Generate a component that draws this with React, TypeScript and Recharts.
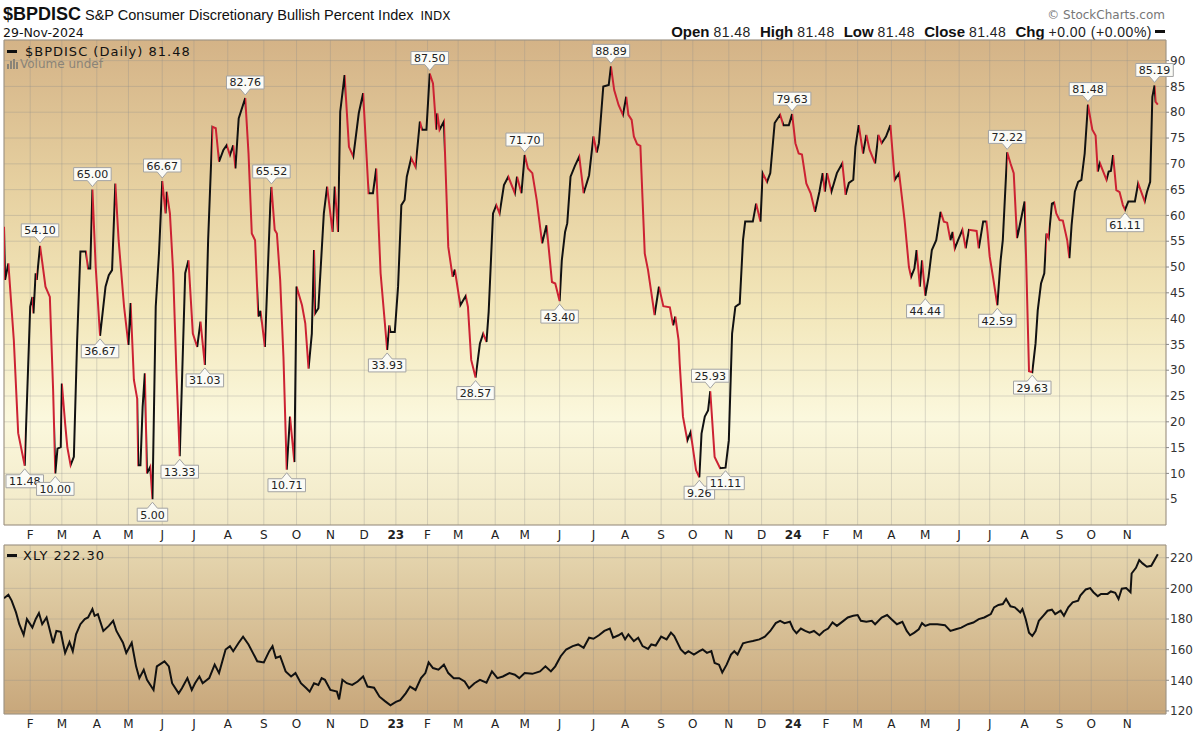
import React from 'react';
import { LineChart, Line, XAxis, YAxis, CartesianGrid, ReferenceDot, ReferenceArea } from 'recharts';

// x unit: session position, approx. days since 2022-01-01
const X_MIN = 7;
const X_MAX = 1071.5;

const monthTicks = [31, 60, 92, 121, 152, 181, 212, 245, 275, 306, 337, 366, 395, 423, 457, 484, 516, 547, 576, 609, 638, 671, 701, 730, 760, 789, 820, 851, 882, 910, 942, 974, 1003, 1036];
const monthLabels = ['F', 'M', 'A', 'M', 'J', 'J', 'A', 'S', 'O', 'N', 'D', '23', 'F', 'M', 'A', 'M', 'J', 'J', 'A', 'S', 'O', 'N', 'D', '24', 'F', 'M', 'A', 'M', 'J', 'J', 'A', 'S', 'O', 'N'];

const bpiTicks = [5, 10, 15, 20, 25, 30, 35, 40, 45, 50, 55, 60, 65, 70, 75, 80, 85, 90];
const xlyTicks = [120, 140, 160, 180, 200, 220];

// $BPDISC daily (day, value)
const bpi2022: [number, number][] = [
  [7, 57.8], [8, 47.5], [11, 50.7], [16, 35.8], [20, 17.8], [26, 11.48], [31, 42.3], [33, 44.2], [34, 41.0], [36, 48.8],
  [37, 47.5], [40, 54.1], [42, 51.0], [45, 46.2], [49, 44.2], [52, 26.1], [54, 10.0], [56, 14.8], [59, 15.1], [60, 27.4],
  [63, 19.7], [65, 15.1], [68, 11.6], [71, 13.2], [74, 35.8], [77, 53.0], [82, 53.0], [84, 49.7], [86, 49.7], [88, 65.0],
  [91, 50.0], [95, 36.67], [100, 46.2], [103, 48.4], [106, 49.4], [109, 66.2], [112, 55.2], [117, 42.3], [121, 34.9], [123, 43.0],
  [126, 28.1], [129, 24.5], [130, 11.6], [132, 11.6], [134, 22.9], [136, 29.4], [138, 10.0], [141, 11.3], [143, 5.0], [146, 42.3],
  [149, 52.7], [152, 66.67], [155, 60.4], [156, 64.6], [159, 60.4], [162, 48.8], [165, 29.4], [168, 13.33], [173, 48.8], [176, 51.3],
  [180, 37.1], [184, 34.5], [187, 39.4], [191, 31.03], [194, 55.2], [198, 77.2], [201, 76.9], [204, 70.4], [208, 72.7], [211, 73.6],
  [214, 71.7], [217, 73.6], [219, 69.1], [222, 78.8], [228, 82.76], [231, 72.0], [234, 56.5], [237, 55.2], [240, 40.4], [242, 41.5],
  [246, 34.5], [251, 62.3], [252, 65.52], [255, 57.2], [257, 56.5], [260, 47.5], [263, 32.6], [266, 10.71], [269, 21.0], [273, 12.2],
  [275, 46.2], [280, 42.6], [283, 39.1], [286, 30.3], [289, 37.1], [291, 53.3], [292, 41.0], [295, 42.0], [300, 60.4], [303, 65.6],
  [308, 56.8], [310, 65.6], [313, 56.8], [315, 80.1], [319, 87.2], [323, 73.3], [327, 71.4], [332, 79.8], [336, 83.7], [341, 64.3],
  [345, 64.3], [348, 69.1], [352, 48.8], [358, 33.93], [360, 38.7], [361, 37.4],
];
const bpi2023: [number, number][] = [
  [365, 37.4], [368, 46.2], [371, 62.0], [374, 63.0], [376, 67.5], [380, 71.1], [384, 69.4], [388, 78.2], [390, 76.6], [394, 76.6],
  [397, 87.5], [400, 85.6], [403, 76.6], [404, 79.8], [406, 76.6], [410, 78.2], [414, 53.9], [418, 48.1], [420, 49.5], [425, 42.6],
  [430, 44.4], [432, 42.3], [435, 32.0], [439, 28.57], [443, 35.2], [446, 37.1], [449, 35.5], [451, 41.3], [455, 60.4], [458, 62.0],
  [461, 60.4], [465, 65.9], [469, 67.5], [475, 64.3], [477, 67.5], [481, 64.3], [484, 71.7], [487, 69.1], [491, 68.2], [495, 63.0],
  [500, 54.6], [504, 58.1], [509, 47.1], [512, 46.8], [516, 43.4], [518, 51.3], [521, 56.8], [523, 58.5], [526, 67.5], [530, 69.6],
  [534, 71.4], [538, 64.3], [543, 67.8], [547, 75.3], [550, 72.2], [552, 74.0], [556, 85.0], [561, 85.3], [563, 88.89], [566, 84.3],
  [570, 81.4], [574, 79.5], [577, 83.0], [579, 79.5], [582, 78.5], [584, 75.3], [587, 73.8], [590, 73.5], [591, 68.2], [594, 52.6],
  [597, 49.4], [603, 40.7], [607, 46.2], [611, 42.4], [617, 42.2], [620, 38.7], [622, 40.4], [625, 35.8], [626, 31.3], [629, 21.0],
  [633, 16.4], [636, 18.0], [641, 10.6], [644, 9.26], [646, 17.7], [649, 21.0], [652, 22.2], [654, 25.93], [658, 13.2], [663, 11.0],
  [668, 11.11], [671, 16.4], [674, 37.1], [677, 42.3], [681, 42.9], [684, 55.2], [686, 58.8], [693, 58.8], [696, 62.3], [700, 58.8],
  [702, 68.2], [706, 66.5], [709, 68.2], [713, 77.9], [718, 79.5], [721, 77.5], [726, 77.5],
];
const bpi2024: [number, number][] = [
  [729, 79.63], [732, 74.0], [735, 72.0], [738, 71.8], [742, 66.2], [746, 64.3], [750, 60.7], [754, 64.6], [757, 68.2], [759, 64.6],
  [761, 68.2], [765, 64.6], [770, 68.2], [775, 70.1], [778, 64.0], [781, 66.3], [785, 66.9], [787, 73.3], [790, 77.5], [794, 72.0],
  [797, 75.6], [800, 72.7], [805, 70.1], [808, 75.6], [811, 74.0], [815, 75.3], [819, 77.5], [823, 66.9], [827, 68.2], [832, 59.1],
  [836, 50.0], [838, 48.1], [841, 49.7], [843, 53.3], [846, 46.2], [848, 51.3], [851, 44.44], [854, 48.1], [857, 53.3], [861, 55.2],
  [865, 60.7], [868, 58.8], [871, 58.6], [874, 55.2], [876, 56.8], [878, 53.6], [881, 55.2], [885, 57.2], [888, 53.6], [891, 57.2],
  [898, 57.0], [900, 53.6], [904, 58.8], [907, 58.8], [908, 56.8], [910, 52.0], [913, 48.1], [917, 42.59], [920, 51.3], [922, 55.2],
  [926, 72.22], [929, 70.1], [932, 68.2], [935, 55.6], [936, 56.5], [942, 62.7], [946, 29.8], [949, 29.63], [952, 35.2], [954, 41.6],
  [957, 46.8], [960, 48.8], [962, 56.5], [964, 55.6], [967, 62.3], [969, 62.5], [971, 60.4], [974, 59.1], [977, 59.0], [981, 55.2],
  [983, 51.7], [985, 58.1], [988, 64.6], [991, 66.5], [994, 66.9], [997, 72.0], [1000, 81.48], [1004, 76.6], [1007, 75.5], [1009, 68.5],
  [1011, 70.1], [1014, 68.5], [1017, 66.9], [1019, 68.5], [1021, 68.6], [1023, 71.7], [1026, 64.9], [1029, 64.5], [1032, 62.0], [1034, 61.11],
  [1037, 62.7], [1043, 62.7], [1046, 66.2], [1052, 62.7], [1054, 64.5], [1057, 66.5], [1059, 83.0], [1061, 85.19], [1062, 82.0], [1064, 81.48],
];

// XLY daily close (day, price)
const xly2022: [number, number][] = [
  [7, 193.6], [11, 195.8], [14, 192.0], [18, 184.3], [21, 176.6], [25, 169.6], [28, 179.9], [33, 174.4], [36, 179.9], [39, 183.9],
  [42, 176.6], [46, 181.0], [48, 175.5], [52, 164.1], [55, 172.2], [59, 171.6], [61, 164.5], [63, 157.9], [67, 164.9], [70, 159.0],
  [73, 170.0], [77, 176.6], [81, 179.9], [84, 181.0], [88, 186.5], [90, 182.1], [93, 183.2], [98, 172.2], [103, 175.5], [107, 178.8],
  [110, 172.2], [116, 164.5], [119, 157.9], [124, 164.5], [128, 149.1], [131, 141.4], [135, 146.9], [138, 140.3], [144, 133.7], [147, 149.1],
  [154, 152.4], [158, 149.1], [161, 138.1], [167, 131.5], [170, 134.8], [175, 141.4], [179, 133.7], [182, 138.1], [186, 142.5], [189, 138.1],
  [195, 141.4], [200, 150.2], [204, 144.7], [210, 160.1], [214, 162.3], [217, 159.0], [222, 164.5], [226, 168.5], [231, 163.4], [235, 157.9],
  [239, 152.4], [245, 151.7], [250, 159.0], [253, 162.3], [256, 154.6], [260, 155.7], [265, 145.8], [270, 142.5], [274, 144.7], [279, 138.1],
  [284, 134.8], [287, 132.6], [291, 138.1], [295, 137.0], [298, 141.4], [301, 140.3], [306, 133.7], [312, 132.6], [314, 127.5], [317, 140.3],
  [321, 138.1], [326, 137.0], [331, 139.2], [336, 142.5], [340, 135.9], [346, 135.2], [351, 129.3], [356, 126.4], [361, 123.7],
];
const xly2023: [number, number][] = [
  [366, 125.9], [370, 127.0], [375, 131.5], [379, 135.9], [384, 133.7], [389, 141.4], [393, 144.7], [396, 151.7], [400, 148.0], [405, 146.9],
  [410, 150.2], [414, 144.7], [419, 141.4], [424, 141.4], [429, 139.2], [433, 134.8], [438, 138.1], [443, 140.3], [449, 138.5], [454, 145.8],
  [459, 141.4], [464, 142.5], [470, 144.7], [475, 143.6], [479, 141.4], [484, 144.7], [491, 144.2], [498, 145.8], [503, 149.1], [508, 145.8],
  [512, 149.1], [517, 155.7], [522, 160.1], [528, 162.3], [533, 163.4], [538, 161.2], [543, 167.8], [547, 167.1], [552, 169.4], [557, 172.2],
  [562, 173.8], [565, 167.8], [570, 169.4], [573, 170.7], [576, 166.7], [579, 170.0], [584, 165.6], [588, 167.8], [592, 162.3], [597, 160.5],
  [600, 163.4], [604, 162.7], [609, 168.5], [614, 166.7], [618, 171.1], [621, 168.9], [627, 160.1], [631, 157.4], [634, 159.0], [639, 156.8],
  [644, 159.0], [647, 160.1], [651, 157.9], [655, 159.0], [658, 151.3], [662, 150.2], [665, 145.1], [669, 150.2], [673, 156.8], [676, 159.0],
  [679, 156.8], [684, 164.1], [688, 164.9], [693, 165.6], [699, 166.7], [704, 168.5], [709, 172.2], [714, 177.3], [718, 178.8], [722, 177.3],
  [727, 178.2],
];
const xly2024: [number, number][] = [
  [730, 173.3], [733, 170.7], [737, 173.8], [741, 172.2], [745, 171.1], [749, 172.2], [754, 169.4], [758, 172.2], [762, 173.8], [766, 177.7],
  [770, 175.5], [776, 178.8], [780, 181.0], [785, 182.1], [789, 182.6], [792, 178.8], [797, 178.2], [802, 178.8], [805, 176.6], [811, 181.0],
  [816, 182.6], [820, 179.9], [825, 176.6], [830, 178.2], [834, 172.2], [837, 169.4], [841, 171.1], [845, 173.3], [848, 177.3], [851, 175.5],
  [855, 176.6], [862, 176.6], [869, 176.0], [874, 172.2], [879, 173.3], [884, 174.4], [890, 176.6], [895, 177.7], [900, 179.9], [905, 181.0],
  [911, 183.2], [914, 187.6], [918, 189.2], [922, 189.8], [925, 193.1], [929, 188.3], [933, 187.6], [938, 184.3], [940, 186.5], [943, 179.9],
  [946, 171.1], [949, 168.9], [952, 172.2], [955, 178.8], [959, 182.1], [963, 185.4], [967, 186.1], [970, 183.2], [975, 185.4], [978, 182.1],
  [982, 187.6], [986, 190.9], [991, 192.0], [993, 195.3], [998, 199.3], [1002, 200.2], [1005, 197.5], [1009, 194.9], [1012, 196.4], [1018, 196.4],
  [1021, 198.0], [1025, 197.1], [1028, 193.1], [1031, 199.8], [1035, 200.2], [1039, 197.5], [1040, 209.7], [1044, 213.4], [1047, 218.5], [1050, 216.3],
  [1054, 214.1], [1058, 214.7], [1061, 218.5], [1064, 222.3],
];

// annotated peaks / troughs
const calloutDays = [26, 40, 54, 88, 95, 143, 152, 168, 191, 228, 252, 266, 358, 397, 439, 484, 516, 563, 644, 654, 668, 729, 851, 917, 926, 949, 1000, 1034, 1061];
const calloutValues = [11.48, 54.1, 10.0, 65.0, 36.67, 5.0, 66.67, 13.33, 31.03, 82.76, 65.52, 10.71, 33.93, 87.5, 28.57, 71.7, 43.4, 88.89, 9.26, 25.93, 11.11, 79.63, 44.44, 42.59, 72.22, 29.63, 81.48, 61.11, 85.19];
const calloutAbove = [false, true, false, true, false, false, true, false, false, true, true, false, false, true, false, true, false, true, false, true, false, true, false, false, true, false, true, false, true];

const ohlcLabels = ['Open', 'High', 'Low', 'Close', 'Chg'];
const ohlcValues = ['81.48', '81.48', '81.48', '81.48', '+0.00 (+0.00%)'];

const RED = '#cc2233';
const BLACK = '#111111';

function textWidth(t: string) {
  let w = 0;
  for (const ch of t) w += ch === '.' ? 3.5 : 7;
  return w;
}

function Callout(props: any) {
  const { cx, cy, text, above } = props;
  if (cx == null || cy == null) return null;
  const w = textWidth(text) + 6;
  const h = 13;
  const left = cx - w / 2;
  const right = cx + w / 2;
  let d = '';
  let boxTop = 0;
  if (above) {
    const bottom = cy - 9;
    boxTop = bottom - h;
    const tip = cy - 3;
    d = `M${left},${boxTop} H${right} V${bottom} H${cx + 5} L${cx},${tip} L${cx - 5},${bottom} H${left} Z`;
  } else {
    const top = cy + 9;
    boxTop = top;
    const tip = cy + 3;
    d = `M${left},${top} H${cx - 5} L${cx},${tip} L${cx + 5},${top} H${right} V${top + h} H${left} Z`;
  }
  return (
    <g>
      <path d={d} fill="#fbfbf6" stroke="#a3a3a3" strokeWidth={1} />
      <text x={cx} y={boxTop + 10.5} textAnchor="middle" fontSize={11} fontFamily="'DejaVu Sans', sans-serif" fill="#222">
        {text}
      </text>
    </g>
  );
}

function MonthTick(props: any) {
  const { x, y, payload } = props;
  const idx = monthTicks.indexOf(payload.value);
  const label = idx >= 0 ? monthLabels[idx] : '';
  const isYear = /^\d+$/.test(label);
  return (
    <text x={x} y={y} dy={10} textAnchor="middle" fontFamily="'DejaVu Sans', sans-serif" fontSize={12} fontWeight={isYear ? 700 : 400} fill="#222">
      {label}
    </text>
  );
}

const yTick = { fontSize: 12, fill: '#333', fontFamily: "'DejaVu Sans', sans-serif" };

export default function App() {
  const bpiPts = [...bpi2022, ...bpi2023, ...bpi2024];
  const bpiData = bpiPts.map(([d, v]) => ({ d, v }));
  const xlyData = [...xly2022, ...xly2023, ...xly2024].map(([d, p]) => ({ d, p }));

  const d0 = bpiPts[0][0];
  const dN = bpiPts[bpiPts.length - 1][0];
  const stops: React.ReactElement[] = [];
  for (let i = 0; i < bpiPts.length - 1; i++) {
    const c = bpiPts[i + 1][1] < bpiPts[i][1] ? RED : BLACK;
    stops.push(<stop key={`a${i}`} offset={(bpiPts[i][0] - d0) / (dN - d0)} stopColor={c} />);
    stops.push(<stop key={`b${i}`} offset={(bpiPts[i + 1][0] - d0) / (dN - d0)} stopColor={c} />);
  }

  return (
    <div style={{ position: 'absolute', left: 0, top: 0, width: 1200, height: 736, background: '#ffffff', overflow: 'hidden' }}>
      {/* header */}
      <div style={{ position: 'absolute', left: 3, top: 4, whiteSpace: 'nowrap', color: '#111', lineHeight: '20px' }}>
        <span style={{ font: "bold 18px 'Liberation Sans', Arial, sans-serif" }}>$BPDISC</span>
        <span style={{ font: "14.5px 'Liberation Sans', Arial, sans-serif", marginLeft: 4 }}>S&amp;P Consumer Discretionary Bullish Percent Index</span>
        <span style={{ font: "12px 'DejaVu Sans', sans-serif", marginLeft: 7 }}>INDX</span>
      </div>
      <div style={{ position: 'absolute', left: 3, top: 25, whiteSpace: 'nowrap', color: '#111', font: "12.5px 'DejaVu Sans', sans-serif" }}>29-Nov-2024</div>
      <div style={{ position: 'absolute', right: 35, top: 8, whiteSpace: 'nowrap', color: '#777', font: "12px 'DejaVu Sans', sans-serif" }}>© StockCharts.com</div>
      <div style={{ position: 'absolute', right: 35, top: 23, whiteSpace: 'nowrap', color: '#111', fontFamily: "'Liberation Sans', Arial, sans-serif", fontSize: 14, display: 'flex', alignItems: 'baseline' }}>
        {ohlcLabels.map((l, i) => (
          <span key={l} style={{ marginLeft: i === 0 ? 0 : 9 }}>
            <b style={{ fontSize: 15 }}>{l}</b> <span style={{ letterSpacing: 0.5, color: '#222' }}>{ohlcValues[i]}</span>
          </span>
        ))}
        <span style={{ display: 'inline-block', width: 10, height: 3, background: '#111', marginLeft: 3, alignSelf: 'center' }} />
      </div>

      {/* top panel */}
      <div style={{ position: 'absolute', left: 0, top: 0 }}>
        <LineChart width={1200} height={545} data={bpiData} margin={{ top: 40, right: 4, bottom: 0, left: 4 }}>
          <defs>
            <linearGradient id="topBg" x1="0" y1="0" x2="0" y2="1">
              <stop offset="0" stopColor="#d4b387" />
              <stop offset="0.3" stopColor="#e6d0a0" />
              <stop offset="0.55" stopColor="#f2e6b9" />
              <stop offset="0.78" stopColor="#fbf8dd" />
              <stop offset="1" stopColor="#f1e8c6" />
            </linearGradient>
            <linearGradient id="bpiStroke" x1="0" y1="0" x2="1" y2="0">
              {stops}
            </linearGradient>
          </defs>
          <CartesianGrid fill="url(#topBg)" stroke="#8c8c8c" strokeOpacity={0.3} />
          <XAxis dataKey="d" type="number" domain={[X_MIN, X_MAX]} ticks={monthTicks} interval={0} tick={<MonthTick />} tickSize={0} tickMargin={4} axisLine={false} tickLine={false} height={20} allowDataOverflow />
          <YAxis orientation="right" domain={[0, 94]} ticks={bpiTicks} interval={0} width={30} tickSize={3} tickMargin={1} axisLine={false} tickLine={{ stroke: '#888' }} tick={yTick} allowDataOverflow />
          <ReferenceArea x1={X_MIN} x2={X_MAX} y1={0} y2={94} fill="none" stroke="#a09482" strokeWidth={1} ifOverflow="visible" />
          <Line type="linear" dataKey="v" stroke="url(#bpiStroke)" strokeWidth={2} dot={false} activeDot={false} isAnimationActive={false} />
          {calloutDays.map((d, i) => (
            <ReferenceDot
              key={`c${i}`}
              x={d}
              y={calloutValues[i]}
              r={0}
              ifOverflow="visible"
              zIndex={2000}
              shape={(p: any) => <Callout cx={p.cx} cy={p.cy} text={calloutValues[i].toFixed(2)} above={calloutAbove[i]} />}
            />
          ))}
        </LineChart>
      </div>

      {/* bottom panel */}
      <div style={{ position: 'absolute', left: 0, top: 527 }}>
        <LineChart width={1200} height={209} data={xlyData} margin={{ top: 18, right: 4, bottom: 0, left: 4 }}>
          <defs>
            <linearGradient id="botBg" x1="0" y1="0" x2="0" y2="1">
              <stop offset="0" stopColor="#e6d7b0" />
              <stop offset="1" stopColor="#c8a77b" />
            </linearGradient>
          </defs>
          <CartesianGrid fill="url(#botBg)" stroke="#8c8c8c" strokeOpacity={0.3} />
          <XAxis dataKey="d" type="number" domain={[X_MIN, X_MAX]} ticks={monthTicks} interval={0} tick={<MonthTick />} tickSize={0} tickMargin={4} axisLine={false} tickLine={false} height={22} allowDataOverflow />
          <YAxis orientation="right" domain={[118, 228.3]} ticks={xlyTicks} interval={0} width={30} tickSize={3} tickMargin={1} axisLine={false} tickLine={{ stroke: '#888' }} tick={yTick} allowDataOverflow />
          <ReferenceArea x1={X_MIN} x2={X_MAX} y1={118} y2={228.3} fill="none" stroke="#a09482" strokeWidth={1} ifOverflow="visible" />
          <Line type="linear" dataKey="p" stroke={BLACK} strokeWidth={2} dot={false} activeDot={false} isAnimationActive={false} />
        </LineChart>
      </div>

      {/* panel legends */}
      <div style={{ position: 'absolute', left: 7, top: 44, whiteSpace: 'nowrap', font: "13px 'DejaVu Sans', sans-serif", letterSpacing: 1, color: '#111', display: 'flex', alignItems: 'center' }}>
        <span style={{ display: 'inline-block', width: 10, height: 3, background: '#111', marginRight: 8 }} />
        <span>$BPDISC (Daily) 81.48</span>
      </div>
      <div style={{ position: 'absolute', left: 7, top: 57, whiteSpace: 'nowrap', font: "12px 'DejaVu Sans', sans-serif", color: '#8a8478', display: 'flex', alignItems: 'flex-end' }}>
        <span style={{ display: 'inline-flex', alignItems: 'flex-end', gap: 1, marginRight: 2, height: 12, paddingBottom: 2 }}>
          <span style={{ width: 2, height: 5, background: '#8a8478' }} />
          <span style={{ width: 2, height: 8, background: '#8a8478' }} />
          <span style={{ width: 2, height: 10, background: '#8a8478' }} />
          <span style={{ width: 2, height: 7, background: '#8a8478' }} />
        </span>
        <span>Volume undef</span>
      </div>
      <div style={{ position: 'absolute', left: 7, top: 548, whiteSpace: 'nowrap', font: "13px 'DejaVu Sans', sans-serif", letterSpacing: 1, color: '#111', display: 'flex', alignItems: 'center' }}>
        <span style={{ display: 'inline-block', width: 10, height: 3, background: '#111', marginRight: 6 }} />
        <span>XLY 222.30</span>
      </div>
    </div>
  );
}
